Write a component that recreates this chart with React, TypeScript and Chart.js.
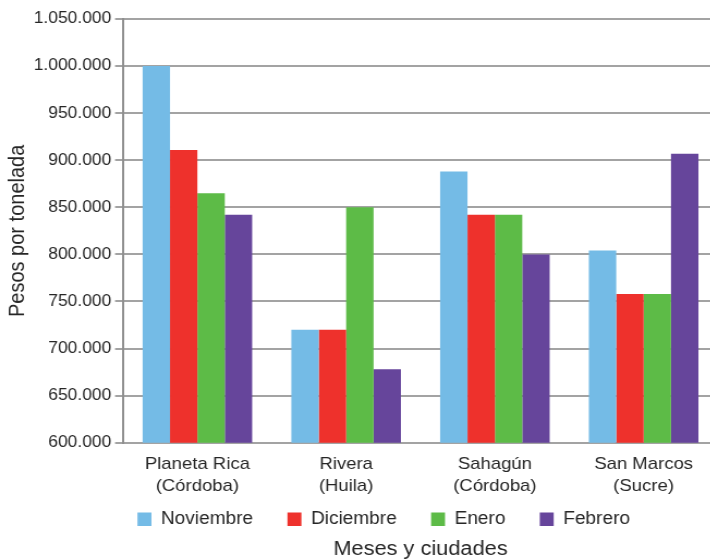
import React, { useEffect, useRef } from "react";
import { Chart, registerables } from "chart.js";

Chart.register(...registerables);

const categories: string[][] = [
  ["Planeta Rica", "(Córdoba)"],
  ["Rivera", "(Huila)"],
  ["Sahagún", "(Córdoba)"],
  ["San Marcos", "(Sucre)"],
];
const seriesNames = ["Noviembre", "Diciembre", "Enero", "Febrero"];
const noviembre = [1000000, 720000, 888000, 804000];
const diciembre = [911000, 720000, 842000, 758000];
const enero = [865000, 850000, 842000, 758000];
const febrero = [842000, 678000, 800000, 907000];
const seriesColors = ["#74bbe6", "#ee312c", "#5dbb47", "#66459b"];
const yMin = 600000;
const yMax = 1050000;
const yStep = 50000;
const yTitle = "Pesos por tonelada";
const xTitle = "Meses y ciudades";

const FONT = "'Liberation Sans', Arial, Helvetica, sans-serif";
const TEXT = "#262626";
const GRID = "#a3a3a3";
const STRETCH = 1.09;
const W = 659;
const H = 559;
const LEGEND_CENTER = 352.2;
const LEGEND_TOP = 479;
const LEGEND_BOTTOM = 539;

const fmt = (v: number) =>
  String(Math.round(v)).replace(/\B(?=(\d{3})+(?!\d))/g, ".");

const legendPlacePlugin = {
  id: "legendPlace",
  afterLayout(chart: any) {
    const l = chart.legend;
    if (!l) return;
    const halfW = (l.right - l.left) / 2;
    l.left = LEGEND_CENTER - halfW;
    l.right = LEGEND_CENTER + halfW;
    l.top = LEGEND_TOP;
    l.bottom = LEGEND_BOTTOM;
    l.height = LEGEND_BOTTOM - LEGEND_TOP;
  },
};

export default function App() {
  const ref = useRef<HTMLCanvasElement | null>(null);
  useEffect(() => {
    if (!ref.current) return;
    const data = [noviembre, diciembre, enero, febrero];
    const chart = new Chart(ref.current, {
      type: "bar",
      data: {
        labels: categories,
        datasets: seriesNames.map((name, i) => ({
          label: name,
          data: data[i],
          backgroundColor: seriesColors[i],
          borderWidth: 0,
          categoryPercentage: 0.7366,
          barPercentage: 1,
        })),
      },
      plugins: [legendPlacePlugin],
      options: {
        animation: false,
        responsive: false,
        devicePixelRatio: 1,
        events: [],
        layout: { padding: { top: 19, left: 0, right: 0, bottom: 0 } },
        scales: {
          x: {
            grid: { display: false, drawTicks: false },
            border: { display: true, color: GRID, width: 2 },
            ticks: {
              color: TEXT,
              font: { family: FONT, size: 17, lineHeight: 1.32 },
              padding: 10,
              maxRotation: 0,
              autoSkip: false,
            },
            afterFit: (s: any) => {
              s.height = 56;
            },
          },
          y: {
            min: yMin,
            max: yMax,
            grid: { color: GRID, lineWidth: 2, drawTicks: true, tickLength: 7.3 },
            border: { display: true, color: "#8f8f8f", width: 2 },
            ticks: {
              stepSize: yStep,
              color: TEXT,
              padding: 3.5,
              font: { family: FONT, size: 16 },
              callback: (v: any) => fmt(Number(v)),
            },
            title: {
              display: true,
              text: yTitle,
              color: TEXT,
              font: { family: FONT, size: 20, lineHeight: 1 },
              padding: { top: 6, bottom: 0 },
            },
            afterFit: (s: any) => {
              s.width = 112.9;
            },
          },
        },
        plugins: {
          legend: {
            position: "bottom",
            maxHeight: 40.3,
            labels: {
              boxWidth: 12.8,
              boxHeight: 13.7,
              padding: 31.5,
              color: TEXT,
              font: { family: FONT, size: 17.5 },
            },
          },
          title: {
            display: true,
            text: xTitle,
            position: "bottom",
            fullSize: false,
            color: TEXT,
            font: { family: FONT, size: 20, lineHeight: 1, weight: "normal" },
            padding: { top: 0, bottom: 0 },
          },
          tooltip: { enabled: false },
        },
      },
    } as any);
    return () => chart.destroy();
  }, []);

  return (
    <div
      style={{
        position: "absolute",
        left: 0,
        top: 0,
        width: 710,
        height: 559,
        overflow: "hidden",
        background: "#fff",
      }}
    >
      <canvas
        ref={ref}
        width={W}
        height={H}
        style={{ width: `${W * STRETCH}px`, height: `${H}px`, display: "block" }}
      />
    </div>
  );
}
